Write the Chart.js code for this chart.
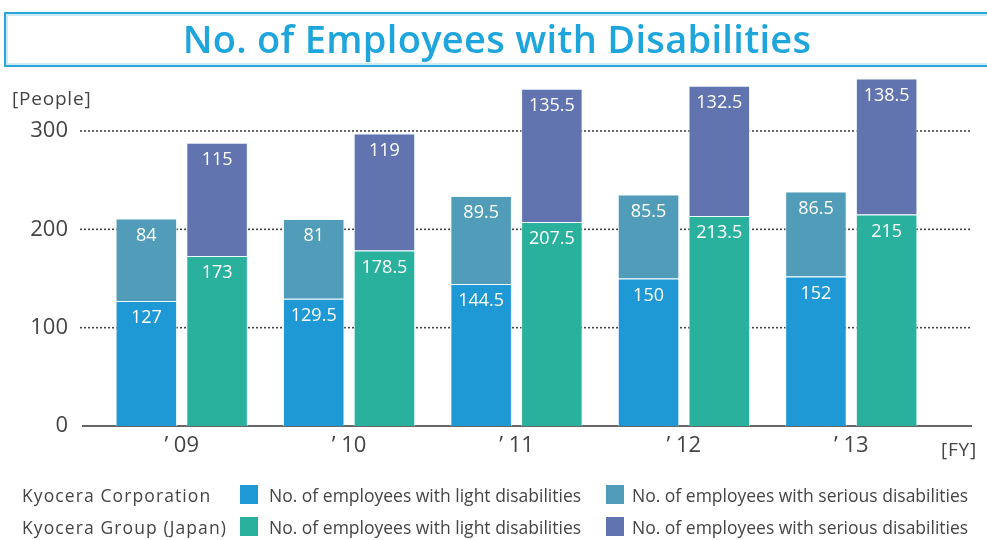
<!DOCTYPE html>
<html>
<head>
<meta charset="utf-8"/>
<title>No. of Employees with Disabilities</title>
<script src="https://cdn.jsdelivr.net/npm/chart.js@4.4.1/dist/chart.umd.min.js"></script>
<style>
  html, body { margin: 0; padding: 0; background: #fff; }
  body { width: 987px; height: 540px; position: relative; overflow: hidden; font-family: "Open Sans", sans-serif; }
  #chart { position: absolute; left: 0; top: 0; }
  .titlebox { position: absolute; left: 4px; top: 12px; width: 1000px; height: 51px;
    border: 2px solid #2aa6dd; box-shadow: inset 0 0 0 2px #cdeaf7; }
  .title { position: absolute; left: 0; top: 13px; width: 994px; text-align: center;
    font-size: 38px; font-weight: 600; color: #1ea6dc; line-height: 50px; letter-spacing: 0.3px; }
  .unit { position: absolute; font-size: 19px; color: #444; letter-spacing: 0.8px; }
  .leg { position: absolute; font-size: 17.5px; color: #444; line-height: 20px; white-space: nowrap; }
  .name { letter-spacing: 1.1px; }
  .box { position: absolute; width: 18px; height: 19px; }
</style>
</head>
<body>
<canvas id="chart" width="987" height="540"></canvas>
<div class="titlebox"></div>
<div class="title">No. of Employees with Disabilities</div>
<div class="unit" style="left:12px; top:85px;">[People]</div>
<div class="unit" style="left:941px; top:436px;">[FY]</div>

<div class="leg name" style="left:22px; top:485px;">Kyocera Corporation</div>
<div class="box" style="left:240px; top:485px; background:#1f98d6;"></div>
<div class="leg" style="left:269px; top:485px;">No. of employees with light disabilities</div>
<div class="box" style="left:606px; top:485px; background:#519db9;"></div>
<div class="leg" style="left:632px; top:485px;">No. of employees with serious disabilities</div>

<div class="leg name" style="left:22px; top:517px;">Kyocera Group (Japan)</div>
<div class="box" style="left:240px; top:517px; background:#29b19e;"></div>
<div class="leg" style="left:269px; top:517px;">No. of employees with light disabilities</div>
<div class="box" style="left:606px; top:517px; background:#6174b0;"></div>
<div class="leg" style="left:632px; top:517px;">No. of employees with serious disabilities</div>

<script>
var categories = ["\u2019 09", "\u2019 10", "\u2019 11", "\u2019 12", "\u2019 13"];
var corpLight = [127, 129.5, 144.5, 150, 152];
var corpSerious = [84, 81, 89.5, 85.5, 86.5];
var groupLight = [173, 178.5, 207.5, 213.5, 215];
var groupSerious = [115, 119, 135.5, 132.5, 138.5];
var yTicks = [0, 100, 200, 300];

// dotted grid lines that run past the plot area, plus the solid base line
var gridPlugin = {
  id: 'grid',
  beforeDatasetsDraw: function(chart) {
    var c = chart.ctx, y = chart.scales.y;
    c.save();
    yTicks.forEach(function(v) {
      var py = y.getPixelForValue(v);
      c.beginPath();
      if (v === 0) {
        c.setLineDash([]);
        c.strokeStyle = '#333';
        c.lineWidth = 1.5;
        c.moveTo(82, py); c.lineTo(972, py);
      } else {
        c.setLineDash([2, 2]);
        c.strokeStyle = '#444';
        c.lineWidth = 1.6;
        c.moveTo(80, py); c.lineTo(972, py);
      }
      c.stroke();
    });
    c.restore();
  }
};

// white value labels near the top of each segment
var labelPlugin = {
  id: 'vals',
  afterDatasetsDraw: function(chart) {
    var c = chart.ctx;
    c.save();
    c.fillStyle = '#fff';
    c.font = '18px "Open Sans"';
    c.textAlign = 'center';
    c.textBaseline = 'top';
    chart.data.datasets.forEach(function(ds, i) {
      chart.getDatasetMeta(i).data.forEach(function(bar, j) {
        c.fillText(String(ds.data[j]), bar.x, bar.y + 8);
      });
    });
    c.restore();
  }
};

var ctx = document.getElementById('chart');
var myChart = new Chart(ctx, {
  type: 'bar',
  data: {
    labels: categories,
    datasets: [
      { label: 'Kyocera Corporation light', data: corpLight, stack: 'corp', backgroundColor: '#1f98d6' },
      { label: 'Kyocera Corporation serious', data: corpSerious, stack: 'corp', backgroundColor: '#519db9' },
      { label: 'Kyocera Group light', data: groupLight, stack: 'group', backgroundColor: '#29b19e' },
      { label: 'Kyocera Group serious', data: groupSerious, stack: 'group', backgroundColor: '#6174b0' }
    ]
  },
  options: {
    responsive: false,
    animation: false,
    categoryPercentage: 0.845,
    barPercentage: 0.87,
    borderWidth: 1,
    borderColor: 'rgba(235,248,252,0.7)',
    layout: { padding: { left: 0, top: 72, right: 52, bottom: 74 } },
    plugins: { legend: { display: false }, tooltip: { enabled: false } },
    scales: {
      x: {
        stacked: true,
        grid: { display: false, drawTicks: false },
        border: { display: false },
        ticks: { color: '#444', font: { family: 'Open Sans', size: 22 }, padding: 7 },
        afterFit: function(s) { s.height = 40; }
      },
      y: {
        stacked: true,
        min: 0,
        max: 360,
        grid: { display: false, drawTicks: false },
        border: { display: false },
        afterBuildTicks: function(s) { s.ticks = yTicks.map(function(v) { return { value: v }; }); },
        ticks: { color: '#444', font: { family: 'Open Sans', size: 22 }, padding: 30 },
        afterFit: function(s) { s.width = 98; }
      }
    }
  },
  plugins: [gridPlugin, labelPlugin]
});
</script>
</body>
</html>
